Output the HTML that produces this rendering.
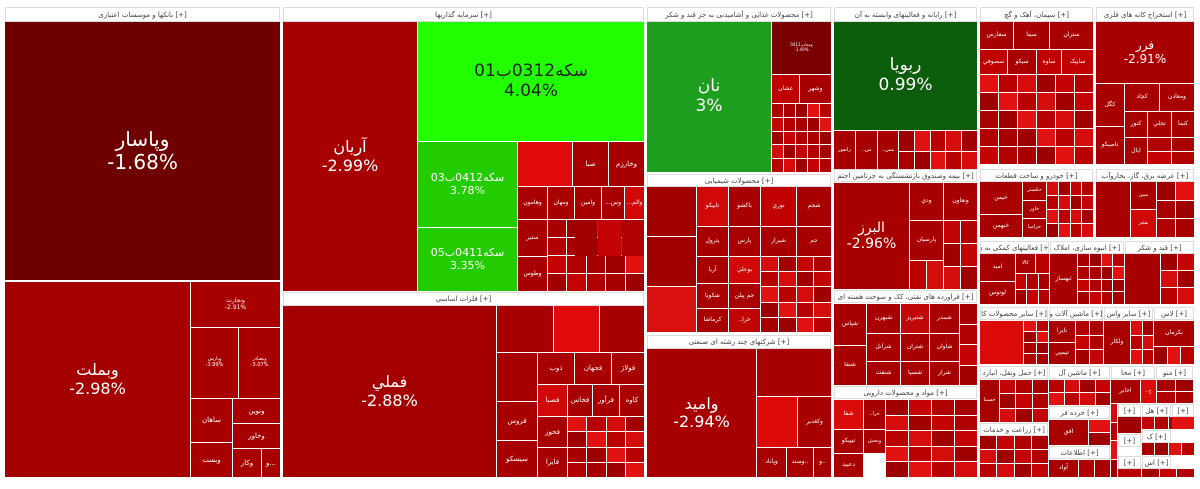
<!DOCTYPE html>
<html><head><meta charset="utf-8">
<style>
html,body{margin:0;padding:0;background:#fff;width:1200px;height:489px;overflow:hidden;font-family:"DejaVu Sans","Liberation Sans",sans-serif}
#map{position:absolute;left:0;top:0;width:1200px;height:489px;background:#fff}
.t{position:absolute;box-sizing:border-box;color:#fff;display:flex;flex-direction:column;align-items:center;justify-content:center;text-align:center;line-height:1.15;overflow:hidden;white-space:nowrap}
.h{position:absolute;box-sizing:border-box;background:#fff;border:1px solid #ddd;color:#444;font-size:7px;display:flex;align-items:center;justify-content:center;overflow:hidden;white-space:nowrap}
</style></head><body>
<div id="map"></div>
<script>
const headers = [
 [5,7,276,15,'بانکها و موسسات اعتباری [+]'],
 [283,7,362,15,'سرمایه گذاریها [+]'],
 [283,292,362,14,'فلزات اساسی [+]'],
 [647,7,185,15,'محصولات غذایی و آشامیدنی به جز قند و شکر [+]'],
 [647,174,185,13,'محصولات شیمیایی [+]'],
 [647,335,185,14,'شرکتهای چند رشته ای صنعتی [+]'],
 [834,7,144,15,'رایانه و فعالیتهای وابسته به آن [+]'],
 [834,169,144,13,'بیمه وصندوق بازنشستگی به جزتامین اجتم [+]'],
 [834,290,144,13,'فراورده های نفتی، کک و سوخت هسته ای [+]'],
 [834,386,144,13,'مواد و محصولات دارویی [+]'],
 [980,7,114,15,'سیمان، آهک و گچ [+]'],
 [1096,7,99,15,'استخراج کانه های فلزی [+]'],
 [980,169,114,13,'خودرو و ساخت قطعات [+]'],
 [1096,169,99,13,'عرضه برق، گاز، بخاروآب [+]'],
 [980,241,70,13,'فعالیتهای کمکی به ن [+]'],
 [1050,241,75,13,'انبوه سازی، املاک [+]'],
 [1125,241,70,13,'قند و شکر [+]'],
 [980,307,69,13,'سایر محصولات کا [+]'],
 [1049,307,55,13,'ماشین آلات و [+]'],
 [1104,307,50,13,'سایر واس [+]'],
 [1154,307,41,13,'لاس [+]'],
 [980,366,69,13,'حمل ونقل، انبارد [+]'],
 [1049,366,62,13,'ماشین آل [+]'],
 [1111,366,45,13,'مخا [+]'],
 [1156,366,38,13,'منو [+]'],
 [980,423,69,13,'زراعت و خدمات [+]'],
 [1049,406,62,13,'خرده فر [+]'],
 [1049,446,62,13,'اطلاعات [+]'],
 [1118,404,24,13,'[+]'],
 [1142,404,30,13,'هل [+]'],
 [1172,404,23,13,'[+]'],
 [1118,434,24,13,'[+]'],
 [1142,430,30,13,'ک [+]'],
 [1118,456,24,13,'[+]'],
 [1142,456,30,13,'اس [+]']
];
const tiles = [
 [5,22,276,259,'#6e0000','وپاسار','-1.68%',20,'#fff'],
 [5,282,186,196,'#a50000','وبملت','-2.98%',16,'#fff'],
 [191,282,90,46,'#a80000','ونجارت','-2.91%',6,'#fff'],
 [191,328,48,71,'#a80000','وپارس','-3.99%',5,'#fff'],
 [239,328,42,71,'#a80000','وبصادر','-3.07%',5,'#fff'],
 [191,399,42,44,'#a80000','ساهان','',7,'#fff'],
 [233,399,48,25,'#a80000','ونوین','',7,'#fff'],
 [233,424,48,25,'#a80000','وخاور','',7,'#fff'],
 [191,443,42,35,'#a80000','وبست','',7,'#fff'],
 [233,449,29,29,'#a80000','وکار','',7,'#fff'],
 [262,449,19,29,'#a80000','و...','',7,'#fff'],
 [283,22,135,270,'#a80000','آریان','-2.99%',16,'#fff'],
 [418,22,227,120,'#22ff00','سکه0312ب01','4.04%',17,'#222'],
 [418,142,100,86,'#22cc00','سکه0412ب03','3.78%',11,'#fff'],
 [418,228,100,64,'#22cc00','سکه0411ب05','3.35%',11,'#fff'],
 [518,142,55,45,'#e00a0a','','',6,'#fff'],
 [573,142,36,45,'#a80000','صبا','',7,'#fff'],
 [609,142,36,45,'#a80000','وخارزم','',7,'#fff'],
 [518,187,30,33,'#a80000','وهامون','',6,'#fff'],
 [548,187,27,33,'#a80000','ومهان','',6,'#fff'],
 [575,187,27,33,'#a80000','وامين','',6,'#fff'],
 [602,187,23,33,'#a80000','...وس','',6,'#fff'],
 [625,187,20,33,'#d00808','...والم','',6,'#fff'],
 [518,220,30,37,'#a80000','ستیر','',6,'#fff'],
 [518,257,30,35,'#a80000','وطوس','',6,'#fff'],
 [283,306,214,172,'#a50000','فملي','-2.88%',16,'#fff'],
 [497,306,57,47,'#a80000','','',5,'#fff'],
 [554,306,46,47,'#e00a0a','','',5,'#fff'],
 [600,306,45,47,'#a80000','','',5,'#fff'],
 [497,353,41,49,'#a80000','','',5,'#fff'],
 [497,402,41,39,'#a80000','فروس','',7,'#fff'],
 [497,441,41,37,'#a80000','سیسکو','',7,'#fff'],
 [538,353,37,32,'#a80000','ذوب','',7,'#fff'],
 [575,353,37,32,'#a80000','فجهان','',7,'#fff'],
 [612,353,33,32,'#a80000','فولاژ','',7,'#fff'],
 [538,385,30,32,'#d00808','فصبا','',7,'#fff'],
 [568,385,25,32,'#a80000','فخاس','',7,'#fff'],
 [593,385,27,32,'#a80000','فرآور','',7,'#fff'],
 [620,385,25,32,'#a80000','کاوه','',7,'#fff'],
 [538,417,30,31,'#a80000','فخوز','',7,'#fff'],
 [538,448,30,30,'#a80000','فايرا','',7,'#fff'],
 [647,22,125,151,'#1e9e1e','نان','3%',17,'#fff'],
 [772,22,60,53,'#7a0000','ومعادن0411','-1.49%',4,'#fff'],
 [772,75,28,29,'#c00000','غشان','',6,'#fff'],
 [800,75,32,29,'#a80000','وشهر','',6,'#fff'],
 [647,187,50,50,'#a00000','','',5,'#fff'],
 [647,237,50,50,'#a00000','','',5,'#fff'],
 [647,287,50,46,'#d81010','','',5,'#fff'],
 [697,187,32,40,'#d00808','تاپیکو','',6,'#fff'],
 [729,187,32,40,'#a80000','باکشو','',6,'#fff'],
 [761,187,36,40,'#c00000','نوري','',6,'#fff'],
 [797,187,35,40,'#a80000','شجم','',6,'#fff'],
 [697,227,32,30,'#a80000','پترول','',6,'#fff'],
 [729,227,32,30,'#a80000','پارس','',6,'#fff'],
 [761,227,36,30,'#a80000','شیراز','',6,'#fff'],
 [797,227,35,30,'#a80000','جم','',6,'#fff'],
 [697,257,32,27,'#a80000','آريا','',6,'#fff'],
 [729,257,32,27,'#d00808','بوعلي','',6,'#fff'],
 [697,284,32,25,'#a80000','شکويا','',6,'#fff'],
 [729,284,32,25,'#a80000','جم پيلن','',6,'#fff'],
 [697,309,32,24,'#a80000','کرماشا','',6,'#fff'],
 [729,309,32,24,'#c00404','..خرا','',6,'#fff'],
 [647,349,110,129,'#a80000','وامید','-2.94%',16,'#fff'],
 [757,349,75,48,'#a80000','','',5,'#fff'],
 [757,397,41,51,'#dd0a0a','','',5,'#fff'],
 [798,397,34,51,'#a80000','وکغدير','',6,'#fff'],
 [757,448,30,30,'#a80000','وپاناد','',6,'#fff'],
 [787,448,27,30,'#a80000','وصند..','',6,'#fff'],
 [814,448,18,30,'#a80000','و..','',6,'#fff'],
 [834,22,144,109,'#0b5c0b','ربویا','0.99%',17,'#fff'],
 [834,131,22,41,'#a80000','رانفور','',5,'#fff'],
 [856,131,22,41,'#a80000','..س','',5,'#fff'],
 [878,131,21,41,'#a80000','..مس','',5,'#fff'],
 [834,183,76,107,'#a80000','البرز','-2.96%',14,'#fff'],
 [910,183,34,38,'#a80000','ودي','',6,'#fff'],
 [944,183,34,38,'#a80000','ونعاون','',6,'#fff'],
 [910,221,34,40,'#a80000','پارسیان','',6,'#fff'],
 [834,304,33,42,'#a80000','شپاس','',6,'#fff'],
 [867,304,34,30,'#a80000','شبهرن','',6,'#fff'],
 [901,304,29,30,'#c00808','شتبريز','',6,'#fff'],
 [930,304,30,30,'#a80000','شبندر','',6,'#fff'],
 [867,334,34,28,'#a80000','شرانل','',6,'#fff'],
 [901,334,29,28,'#a80000','شتران','',6,'#fff'],
 [930,334,30,28,'#a80000','شاوان','',6,'#fff'],
 [834,346,33,40,'#a80000','شنفا','',6,'#fff'],
 [867,362,34,24,'#a80000','شنفت','',6,'#fff'],
 [901,362,29,24,'#a80000','شسپا','',6,'#fff'],
 [930,362,30,24,'#a80000','شراز','',6,'#fff'],
 [834,400,30,30,'#dd0a0a','شفا','',6,'#fff'],
 [834,430,30,24,'#a80000','تيپيکو','',6,'#fff'],
 [834,454,30,24,'#a80000','دعبيد','',6,'#fff'],
 [864,400,22,30,'#a80000','..حرا','',5,'#fff'],
 [864,430,22,24,'#a80000','وپخش','',5,'#fff'],
 [1096,22,99,62,'#a80000','فرر','-2.91%',12,'#fff'],
 [1096,84,29,43,'#a80000','کگل','',6,'#fff'],
 [1125,84,35,28,'#a80000','کچاد','',6,'#fff'],
 [1160,84,35,28,'#a80000','ومعادن','',6,'#fff'],
 [1096,127,29,38,'#a80000','تاصیکو','',6,'#fff'],
 [1125,112,23,26,'#a80000','کنور','',6,'#fff'],
 [1148,112,24,26,'#a80000','تجلي','',6,'#fff'],
 [1172,112,23,26,'#a80000','کنما','',6,'#fff'],
 [1125,138,23,27,'#a80000','ایال','',6,'#fff'],
 [980,22,34,28,'#a80000','سفارس','',6,'#fff'],
 [1014,22,36,28,'#a80000','سيتا','',6,'#fff'],
 [1050,22,44,28,'#a80000','ستران','',6,'#fff'],
 [980,50,28,25,'#c00000','سصوفي','',6,'#fff'],
 [1008,50,29,25,'#a80000','سيکو','',6,'#fff'],
 [1037,50,25,25,'#c00000','ساوه','',6,'#fff'],
 [1062,50,32,25,'#c00000','سایپک','',6,'#fff'],
 [980,182,43,33,'#a80000','خیمن','',6,'#fff'],
 [980,215,43,23,'#a80000','خبهمن','',6,'#fff'],
 [1023,182,24,19,'#a80000','خکستر','',5,'#fff'],
 [1023,201,24,18,'#a80000','خاور','',5,'#fff'],
 [1023,219,24,19,'#a80000','خزامیا','',5,'#fff'],
 [1096,182,35,56,'#a80000','','',5,'#fff'],
 [1131,182,26,28,'#a80000','مبین','',5,'#fff'],
 [1131,210,26,28,'#d00808','بفجر','',5,'#fff'],
 [980,254,36,28,'#a80000','امید','',6,'#fff'],
 [980,282,36,23,'#a80000','لوتوس','',6,'#fff'],
 [1016,254,20,20,'#a80000','کالا','',5,'#fff'],
 [1050,254,28,51,'#a80000','ثبهساز','',6,'#fff'],
 [1125,254,36,51,'#a80000','','',5,'#fff'],
 [980,321,44,44,'#dd0a0a','','',5,'#fff'],
 [1049,321,27,22,'#a80000','تايرا','',6,'#fff'],
 [1049,343,27,22,'#a80000','تپمپي','',6,'#fff'],
 [1104,321,27,44,'#a80000','ولکار','',6,'#fff'],
 [1154,321,41,26,'#a80000','بکرمان','',6,'#fff'],
 [980,380,20,43,'#a80000','حسینا','',5,'#fff'],
 [1111,380,30,24,'#a80000','اخابر','',6,'#fff'],
 [1141,380,16,24,'#dd0a0a','..خ','',5,'#fff'],
 [1049,420,40,26,'#a80000','افق','',6,'#fff'],
 [1049,460,30,18,'#a80000','آواد','',6,'#fff']
];
const grids = [
 [548,220,97,72,5,4],[575,220,70,37,3,1],
 [568,417,77,61,4,4],
 [772,104,60,69,5,5],
 [761,257,71,76,4,5],
 [899,131,79,41,5,2],
 [944,221,34,69,2,3],[910,261,34,29,2,1],
 [960,304,18,82,1,4],
 [886,400,92,78,4,5],
 [980,75,114,90,6,5],
 [1148,138,47,27,2,2],
 [1047,182,47,56,4,4],
 [1157,182,38,56,2,3],
 [1016,274,34,31,3,2],[1036,254,14,20,1,1],
 [1078,254,47,51,4,4],
 [1161,254,34,51,2,3],
 [1024,321,25,44,2,4],[1076,321,28,44,2,3],[1131,321,23,44,2,3],[1154,347,41,18,3,1],
 [1000,380,49,43,3,3],[1049,380,62,26,4,2],[1157,380,37,24,2,2],
 [980,436,69,42,4,3],[1089,420,22,26,1,2],[1079,460,32,18,2,1],
 [1111,404,7,74,1,4],[1118,417,24,17,1,1],[1142,417,53,13,4,1],
 [1118,469,24,9,1,1],[1142,443,53,13,4,1],[1142,469,53,9,3,1],[1172,417,23,13,1,1]
];
const pal = ['#a80000','#b80000','#c40404','#9c0000','#d40c0c','#b00000','#e01212','#a00000'];
const map = document.getElementById('map');
function addTile(x,y,w,h,bg,name,pct,fs,tc){
  const d=document.createElement('div');
  d.className='t';
  d.style.cssText=`left:${x}px;top:${y}px;width:${w-1}px;height:${h-1}px;background:${bg};color:${tc};font-size:${fs}px`;
  
  
  if(name){const a=document.createElement('div');a.textContent=name;d.appendChild(a);}
  if(pct){const b=document.createElement('div');b.textContent=pct;d.appendChild(b);}
  map.appendChild(d);
}
grids.forEach((g,gi)=>{
  const [x,y,w,h,c,r]=g;
  const cw=w/c, rh=h/r;
  for(let i=0;i<c;i++)for(let j=0;j<r;j++){
    const col=pal[(i*3+j*5+gi*7)%pal.length];
    addTile(Math.round(x+i*cw),Math.round(y+j*rh),Math.round(x+(i+1)*cw)-Math.round(x+i*cw),Math.round(y+(j+1)*rh)-Math.round(y+j*rh),col,'','',5,'#fff');
  }
});
tiles.forEach(t=>addTile(...t));
headers.forEach(h=>{
  const d=document.createElement('div');
  d.className='h';
  d.style.cssText=`left:${h[0]}px;top:${h[1]}px;width:${h[2]-1}px;height:${h[3]}px`;
  d.textContent=h[4];
  
  
  map.appendChild(d);
});
</script>
</body></html>
